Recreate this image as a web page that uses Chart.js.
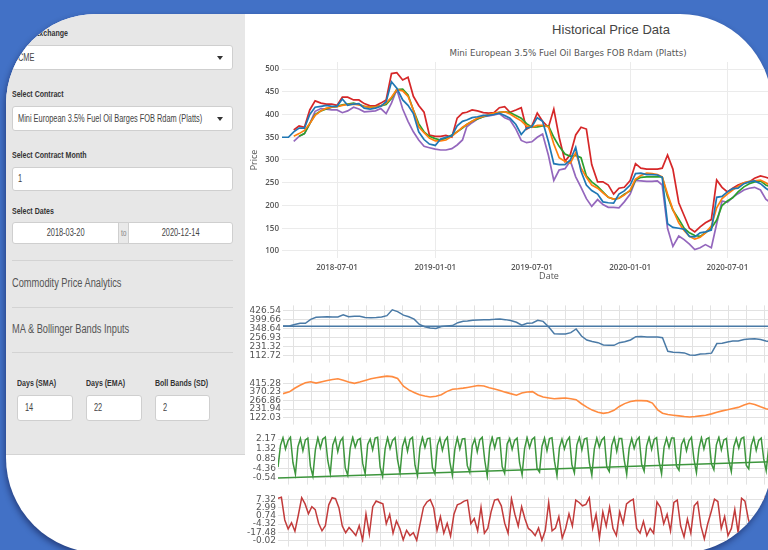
<!DOCTYPE html>
<html>
<head>
<meta charset="utf-8">
<script src="https://cdn.jsdelivr.net/npm/chart.js@4.4.1/dist/chart.umd.min.js"></script>
<style>
  html, body { margin: 0; padding: 0; }
  body { width: 768px; height: 550px; overflow: hidden; background: #4271c6; position: relative;
         font-family: "Liberation Sans", Arial, sans-serif; }
  #card { position: absolute; left: 6px; top: 14px; width: 766px; height: 539px; background: #fff;
          border-radius: 90px 92px 92px 95px; overflow: hidden; box-shadow: -1px 3px 6px rgba(0,0,40,.45); }
  #side { position: absolute; left: 0; top: 0; width: 239px; height: 440px; background: #e7e7e7;
          border-bottom: 1px solid #d4d4d4; }
  .a { position: absolute; white-space: nowrap; }
  .n { display: inline-block; transform: scaleX(.74); transform-origin: 0 50%; }
  .c { text-align: center; padding-left: 0 !important; }
  .c .n { transform-origin: 50% 50%; }
  .lbl { font-size: 9.5px; font-weight: bold; color: #333; height: 12px; line-height: 12px; }
  .box { background: #fff; border: 1px solid #cfcfcf; border-radius: 3px; box-sizing: border-box;
         font-size: 10px; color: #444; padding-left: 5px; }
  .caret { position: absolute; right: 9px; top: 50%; margin-top: -2px; border-left: 3.5px solid transparent;
           border-right: 3.5px solid transparent; border-top: 4.5px solid #333; }
  .addon { background: #e9e9e9; border: 1px solid #cfcfcf; box-sizing: border-box; font-size: 9px; color: #888;
           text-align: center; }
  .hr { position: absolute; left: 6px; width: 221px; height: 1px; background: #d3d3d3; }
  .sec { font-size: 12.5px; color: #555; height: 16px; line-height: 16px; }
  canvas { position: absolute; }
</style>
</head>
<body>
<div id="card">
  <div id="side">
    <div class="a lbl" style="left:6px;top:13px"><span class="n">Select Exchange</span></div>
    <div class="a box" style="left:6px;top:31px;width:221px;height:25px;line-height:23px"><span class="n">CME</span><i class="caret"></i></div>
    <div class="a lbl" style="left:6px;top:74px"><span class="n">Select Contract</span></div>
    <div class="a box" style="left:6px;top:92px;width:221px;height:25px;line-height:23px"><span class="n">Mini European 3.5% Fuel Oil Barges FOB Rdam (Platts)</span><i class="caret"></i></div>
    <div class="a lbl" style="left:6px;top:135px"><span class="n">Select Contract Month</span></div>
    <div class="a box" style="left:6px;top:153px;width:221px;height:24px;line-height:22px"><span class="n">1</span></div>
    <div class="a lbl" style="left:6px;top:191px"><span class="n">Select Dates</span></div>
    <div class="a box c" style="left:6px;top:208px;width:107px;height:22px;line-height:20px;border-radius:3px 0 0 3px"><span class="n">2018-03-20</span></div>
    <div class="a addon" style="left:112px;top:208px;width:11px;height:22px;line-height:20px"><span class="n" style="transform-origin:50% 50%">to</span></div>
    <div class="a box c" style="left:122px;top:208px;width:105px;height:22px;line-height:20px;border-radius:0 3px 3px 0"><span class="n">2020-12-14</span></div>
    <div class="hr" style="top:246px"></div>
    <div class="a sec" style="left:6px;top:261px"><span class="n">Commodity Price Analytics</span></div>
    <div class="hr" style="top:293px"></div>
    <div class="a sec" style="left:6px;top:307px"><span class="n">MA &amp; Bollinger Bands Inputs</span></div>
    <div class="hr" style="top:338px"></div>
    <div class="a lbl" style="left:11px;top:363px"><span class="n">Days (SMA)</span></div>
    <div class="a lbl" style="left:80px;top:363px"><span class="n">Days (EMA)</span></div>
    <div class="a lbl" style="left:149px;top:363px"><span class="n">Boll Bands (SD)</span></div>
    <div class="a box" style="left:11px;top:381px;width:56px;height:26px;line-height:24px;padding-left:7px"><span class="n">14</span></div>
    <div class="a box" style="left:80px;top:381px;width:56px;height:26px;line-height:24px;padding-left:7px"><span class="n">22</span></div>
    <div class="a box" style="left:149px;top:381px;width:55px;height:26px;line-height:24px;padding-left:7px"><span class="n">2</span></div>
  </div>

  <div class="a" style="left:505px;top:8px;width:200px;text-align:center;font-size:13px;line-height:16px;color:#444">Historical Price Data</div>
  <div class="a" style="left:362px;top:33px;width:400px;text-align:center;font-family:'DejaVu Sans';font-size:8.7px;line-height:12px;color:#555">Mini European 3.5% Fuel Oil Barges FOB Rdam (Platts)</div>

  <canvas id="main" width="577" height="250" style="left:239px;top:26px"></canvas>
  <canvas id="p1" width="577" height="68" style="left:239px;top:284px"></canvas>
  <canvas id="p2" width="577" height="62" style="left:239px;top:352px"></canvas>
  <canvas id="p3" width="577" height="60" style="left:239px;top:414px"></canvas>
  <canvas id="p4" width="577" height="62" style="left:239px;top:474px"></canvas>
</div>

<script>
// sample dates (1st, 11th, 21st of each month)
const dates = [
  '2018-03-20','2018-04-01','2018-04-11','2018-04-21','2018-05-01','2018-05-11','2018-05-21','2018-06-01','2018-06-11','2018-06-21',
  '2018-07-01','2018-07-11','2018-07-21','2018-08-01','2018-08-11','2018-08-21','2018-09-01','2018-09-11','2018-09-21','2018-10-01',
  '2018-10-11','2018-10-21','2018-11-01','2018-11-11','2018-11-21','2018-12-01','2018-12-11','2018-12-21','2019-01-01','2019-01-11',
  '2019-01-21','2019-02-01','2019-02-11','2019-02-21','2019-03-01','2019-03-11','2019-03-21','2019-04-01','2019-04-11','2019-04-21',
  '2019-05-01','2019-05-11','2019-05-21','2019-06-01','2019-06-11','2019-06-21','2019-07-01','2019-07-11','2019-07-21','2019-08-01',
  '2019-08-11','2019-08-21','2019-09-01','2019-09-11','2019-09-21','2019-10-01','2019-10-11','2019-10-21','2019-11-01','2019-11-11',
  '2019-11-21','2019-12-01','2019-12-11','2019-12-21','2020-01-01','2020-01-11','2020-01-21','2020-02-01','2020-02-11','2020-02-21',
  '2020-03-01','2020-03-11','2020-03-21','2020-04-01','2020-04-11','2020-04-21','2020-05-01','2020-05-11','2020-05-21','2020-06-01',
  '2020-06-11','2020-06-21','2020-07-01','2020-07-11','2020-07-21','2020-08-01','2020-08-11','2020-08-21','2020-09-01','2020-09-11',
  '2020-09-21','2020-10-01','2020-10-11','2020-10-21','2020-11-01','2020-11-11','2020-11-21','2020-12-01','2020-12-11','2020-12-14'
];

const price = [
  350, 350, 362, 370, 370, 400, 416, 418, 420, 418,
  418, 434, 420, 423, 424, 414, 412, 414, 418, 428,
  472, 458, 432, 420, 402, 362, 345, 335, 332, 346,
  350, 353, 375, 385, 388, 393, 395, 398, 398, 400,
  403, 398, 392, 378, 356, 370, 373, 393, 385, 340,
  292, 290, 290, 300, 328, 275, 245, 233, 225, 208,
  206, 205, 225, 232, 245, 270, 271, 268, 268, 267,
  262, 160, 152, 150, 148, 132, 131, 140, 142, 146,
  218, 220, 230, 237, 238, 248, 252, 254, 248, 238,
  230, 235, 240, 245, 250, 262, 275, 285, 290, 292
];

const ema = [
  null, null, 352, 358, 365, 380, 398, 408, 414, 416,
  417, 420, 422, 423, 421, 418, 416, 417, 419, 425,
  438, 455, 452, 440, 410, 373, 360, 348, 342, 342,
  344, 352, 362, 372, 378, 385, 392, 396, 400, 403,
  405, 406, 401, 393, 386, 375, 372, 376, 376, 373,
  335, 305, 297, 293, 316, 282, 262, 245, 238, 228,
  218, 214, 216, 223, 234, 258, 266, 271, 270, 268,
  263, 225, 191, 162, 145, 132, 126, 130, 140, 155,
  195, 215, 225, 234, 242, 250, 253, 254, 256, 250,
  243, 240, 240, 242, 245, 252, 262, 272, 280, 282
];

const sma = [
  null, null, null, 352, 358, 380, 400, 408, 412, 416,
  418, 421, 423, 425, 422, 418, 416, 417, 419, 422,
  435, 455, 456, 443, 410, 380, 362, 352, 347, 344,
  348, 355, 362, 370, 378, 385, 390, 395, 399, 402,
  405, 406, 404, 398, 392, 380, 372, 373, 375, 375,
  350, 330, 313, 308, 310, 305, 265, 252, 242, 230,
  218, 214, 216, 225, 232, 256, 262, 263, 263, 263,
  263, 220, 190, 170, 150, 140, 134, 132, 140, 150,
  168, 200, 210, 217, 230, 241, 248, 252, 254, 245,
  240, 238, 238, 240, 243, 250, 258, 268, 276, 278
];

const upperBand = [
  null, null, 366, 375, 372, 410, 430, 425, 423, 423,
  420, 438, 438, 432, 432, 424, 419, 419, 425, 432,
  490, 492, 476, 482, 440, 420, 405, 355, 352, 352,
  354, 350, 392, 403, 405, 410, 408, 404, 403, 404,
  415, 417, 405, 410, 415, 368, 375, 403, 385, 372,
  412, 350, 297, 312, 355, 372, 368, 290, 252, 252,
  245, 225, 238, 240, 255, 292, 282, 280, 280, 280,
  282, 311, 280, 206, 178, 150, 142, 153, 162, 169,
  256, 240, 230, 238, 245, 250, 252, 260, 265, 262,
  258, 255, 254, 258, 262, 276, 292, 305, 310, 311
];

const lowerBand = [
  null, null, 341, 352, 358, 380, 407, 413, 412, 410,
  410, 404, 408, 416, 412, 406, 407, 408, 413, 402,
  425, 455, 412, 385, 362, 344, 330, 327, 324, 322,
  322, 325, 333, 344, 373, 382, 390, 395, 397, 399,
  402, 393, 388, 368, 343, 338, 340, 350, 357, 310,
  255, 278, 281, 298, 263, 240, 215, 198, 213, 202,
  196, 196, 195, 208, 225, 255, 254, 253, 253, 254,
  245, 150, 110, 133, 125, 115, 103, 107, 114, 107,
  160, 210, 207, 218, 226, 234, 238, 240, 234, 214,
  205, 210, 220, 226, 230, 238, 250, 262, 270, 272
];

const priceTicks = [100, 150, 200, 250, 300, 350, 400, 450, 500];
const dateTicks = ['2018-07-01', '2019-01-01', '2019-07-01', '2020-01-01', '2020-07-01'];

// lower panels
const closeLabels = ['426.54', '399.66', '348.64', '256.93', '231.32', '112.72'];
const closeRef = 348.64;

const smoothSeries = [
  310, 323, 350, 372, 390, 398, 388, 398, 408, 415,
  420, 410, 396, 386, 396, 408, 420, 428, 434, 440,
  436, 422, 365, 338, 319, 302, 292, 285, 290, 302,
  325, 342, 346, 351, 356, 363, 370, 366, 354, 345,
  333, 321, 310, 298, 315, 322, 325, 300, 285, 278,
  272, 275, 278, 272, 265, 235, 210, 188, 172, 164,
  170, 186, 215, 236, 252, 258, 258, 256, 240, 190,
  165, 155, 150, 145, 140, 137, 140, 145, 150, 160,
  172, 182, 190, 200, 208, 225, 238, 230, 212, 198,
  188, 180, 175, 172, 170, 175, 182, 190, 195, 196
];
const smoothLabels = ['415.28', '370.23', '266.86', '231.94', '122.03'];

// position on the category axis, 0 = bottom, 10 = top
const cycleSeries = [
  3.0, 7.8, 9.5, 7.0, 8.8, 9.6, 4.0,
  1.4, 7.5, 9.3, 6.6, 9.0, 9.4, 3.2,
  1.0, 6.8, 9.5, 7.2, 9.2, 9.6, 4.4,
  1.6, 7.9, 9.4, 6.4, 8.7, 9.5, 2.8,
  1.2, 7.2, 9.6, 7.4, 9.0, 9.3, 3.8,
  1.5, 8.0, 9.2, 6.8, 9.4, 9.6, 3.0,
  0.9, 7.0, 9.5, 7.1, 8.9, 9.5, 4.6,
  1.7, 7.6, 9.3, 6.5, 9.1, 9.6, 3.4,
  1.1, 7.3, 9.6, 7.3, 9.3, 9.4, 2.9,
  1.5, 7.8, 9.4, 6.7, 8.8, 9.6, 4.1,
  1.2, 6.9, 9.5, 7.0, 9.2, 9.3, 3.3,
  1.8, 7.7, 9.2, 6.4, 9.0, 9.6, 4.5,
  1.0, 7.4, 9.6, 7.2, 9.4, 9.5, 3.1,
  1.6, 8.1, 9.3, 6.9, 8.9, 9.4, 3.9,
  1.3, 7.1, 9.5, 7.3, 9.1, 9.6, 2.7,
  1.9, 7.6, 9.4, 6.6, 9.3, 9.5, 4.3,
  1.1, 7.3, 9.2, 7.0, 8.8, 9.6, 3.5,
  1.7, 7.9, 9.6, 6.8, 9.2, 9.4, 4.0,
  1.2, 7.0, 9.4, 7.4, 9.0, 9.6, 3.0,
  2.0, 7.8, 9.5, 6.5, 9.3, 9.3, 4.6,
  1.4, 7.2, 9.3, 7.1, 8.9, 9.6, 3.6,
  2.1, 7.7, 9.6, 6.9, 9.1, 9.5, 4.2,
  1.5, 7.4, 9.4, 7.3, 9.4, 9.4, 3.2,
  2.3, 8.0, 9.2, 6.6, 8.8, 9.6, 4.7,
  1.8, 7.1, 9.5, 7.0, 9.2, 9.5, 3.7,
  2.4, 7.9, 9.6, 6.8, 9.0, 9.3, 4.4,
  2.0, 7.5, 9.3, 7.2, 9.3, 9.6, 3.4,
  2.6, 7.8, 9.5, 6.7, 8.9, 9.4, 4.8,
  2.2, 7.3, 9.4, 7.1, 9.1, 9.6, 3.9,
  2.8, 7.9, 9.6, 6.9, 9.3, 9.5, 4.5,
  2.5, 7.6, 9.3, 7.0, 9.0, 9.4, 4.0
];
const cycleTrend = [0.6, 4.5];
const cycleLabels = ['2.17', '1.32', '0.85', '-4.36', '-0.54'];

const noiseSeries = [
  9.4, 9.6, 4.8, 2.9, 4.2, 2.4, 5.8, 9.5, 8.2, 6.1,
  7.6, 7.0, 4.1, 2.5, 3.6, 8.0, 9.5, 9.3, 7.4, 3.5,
  2.1, 3.2, 2.4, 1.5, 3.6, 0.5, 6.1, 1.8, 7.6, 8.8,
  8.5, 8.2, 4.0, 6.0, 2.0, 4.6, 3.0, 0.6, 2.6, 1.5,
  2.1, 0.5, 4.0, 7.5, 8.6, 9.1, 7.4, 2.6, 5.5, 2.0,
  4.1, 1.4, 6.0, 8.0, 8.3, 8.8, 9.0, 4.0, 5.1, 2.5,
  7.5, 2.0, 3.0, 6.6, 9.0, 9.2, 7.8, 4.1, 2.0, 9.3,
  6.0, 3.5, 7.6, 5.0, 3.0, 2.4, 1.5, 3.1, 0.5, 2.6,
  8.5, 2.5, 3.1, 5.5, 1.0, 3.0, 6.1, 3.5, 9.0, 8.5,
  7.8, 8.1, 9.5, 3.0, 6.0, 1.0, 6.5, 3.5, 7.5, 3.0,
  1.5, 6.5, 4.0, 8.2, 8.8, 9.2, 3.0, 2.0, 4.5, 1.5,
  3.0, 2.0, 8.6, 7.5, 4.0, 6.0, 2.5, 8.5, 9.0, 3.5,
  1.2, 5.0, 2.0, 7.8, 8.6, 3.5, 0.8, 4.0, 6.5, 9.2,
  8.7, 3.0, 5.5, 1.5, 3.0, 7.0, 2.0, 9.4, 8.8, 5.0,
  2.5, 0.8, 4.0, 7.5, 9.6, 9.0, 3.8, 1.6, 5.2, 2.4,
  8.9, 9.3, 6.2, 2.2, 4.4, 0.9, 3.6, 8.4, 9.5, 4.6
];
const noiseLabels = ['7.32', '2.99', '0.74', '-4.32', '-17.48', '-0.02'];

const t0 = Date.UTC(2018, 2, 20);
function dayOf(s) {
  const p = s.split('-');
  return (Date.UTC(+p[0], +p[1] - 1, +p[2]) - t0) / 864e5;
}
const lastDay = dayOf(dates[dates.length - 1]);
function pts(vals) { return vals.map((v, i) => ({ x: dayOf(dates[i]), y: v })); }
function spread(vals) { return vals.map((v, i) => ({ x: i * lastDay / (vals.length - 1), y: v })); }
function line(data, color, w) {
  return { data: data, borderColor: color, borderWidth: w, pointRadius: 0, fill: false, tension: 0 };
}

Chart.defaults.font.family = "'Open Sans', sans-serif";
Chart.defaults.plugins.legend.display = false;
Chart.defaults.plugins.tooltip.enabled = false;

new Chart(document.getElementById('main'), {
  type: 'line',
  data: {
    datasets: [
      line(pts(price), '#1f77b4', 1.7),
      line(pts(ema), '#ff7f0e', 1.7),
      line(pts(sma), '#2ca02c', 1.7),
      line(pts(upperBand), '#d62728', 1.7),
      line(pts(lowerBand), '#9467bd', 1.7)
    ]
  },
  options: {
    responsive: false,
    animation: false,
    layout: { padding: { top: 22, right: 6, left: 0, bottom: 8 } },
    scales: {
      x: {
        type: 'linear', min: 0, max: lastDay,
        afterBuildTicks: s => { s.ticks = dateTicks.map(d => ({ value: dayOf(d) })); },
        afterFit: s => { s.height = 24; },
        grid: { color: '#ebebeb', drawTicks: false },
        border: { display: false },
        ticks: { autoSkip: false, maxRotation: 0, padding: 5, color: '#555',
                 font: { size: 8, weight: '600' }, callback: (v, i) => dateTicks[i] },
        title: { display: true, text: 'Date', color: '#555', font: { size: 9 }, padding: { top: 1, bottom: 0 } }
      },
      y: {
        min: 84.6, max: 515.4,
        afterBuildTicks: s => { s.ticks = priceTicks.map(v => ({ value: v })); },
        afterFit: s => { s.width = 37; },
        grid: { color: '#ebebeb', drawTicks: false },
        border: { display: false },
        ticks: { padding: 3, color: '#555', font: { size: 8, weight: '600' } },
        title: { display: true, text: 'Price', color: '#555', font: { size: 9 } }
      }
    }
  }
});

function panel(id, datasets, labels, min, max, f0, f1, axisW) {
  new Chart(document.getElementById(id), {
    type: 'line',
    data: { datasets: datasets },
    options: {
      responsive: false,
      animation: false,
      layout: { padding: { top: 6, right: 6, left: 0, bottom: 0 } },
      scales: {
        x: {
          type: 'linear', min: 0, max: lastDay,
          afterBuildTicks: s => {
            const t = [];
            for (let d = 20; d < lastDay; d += 34) t.push({ value: d });
            s.ticks = t;
          },
          afterFit: s => { s.height = 4; },
          ticks: { display: false },
          grid: { color: '#e2e2e2', tickLength: 4 },
          border: { display: false }
        },
        y: {
          min: min, max: max,
          afterBuildTicks: s => {
            s.ticks = labels.map((_, i) => ({ value: max - (max - min) * (f0 + (f1 - f0) * i / (labels.length - 1)) }));
          },
          afterFit: s => { s.width = axisW; },
          grid: { color: '#e2e2e2', drawTicks: false },
          border: { display: false },
          ticks: { autoSkip: false, padding: 2, color: '#555',
                   font: { family: "'DejaVu Sans', sans-serif", size: 9 },
                   callback: (v, i) => labels[i] }
        }
      }
    }
  });
}

panel('p1', [line(pts(price), '#4a7aa6', 1.5), line(spread([closeRef, closeRef]), '#4a7aa6', 1.5)],
      closeLabels, 105, 505, 0.10, 0.95, 38);
panel('p2', [line(pts(smoothSeries), '#ff8b3f', 1.6)], smoothLabels, 110, 460, 0.21, 0.94, 38);
panel('p3', [line(spread(cycleSeries), '#3d963d', 1.5), line(spread(cycleTrend), '#3d963d', 1.5)],
      cycleLabels, 0, 10, 0.08, 0.94, 33);
panel('p4', [line(spread(noiseSeries), '#c23b3b', 1.5)], noiseLabels, 0, 10, 0.08, 0.96, 33);
</script>
</body>
</html>
